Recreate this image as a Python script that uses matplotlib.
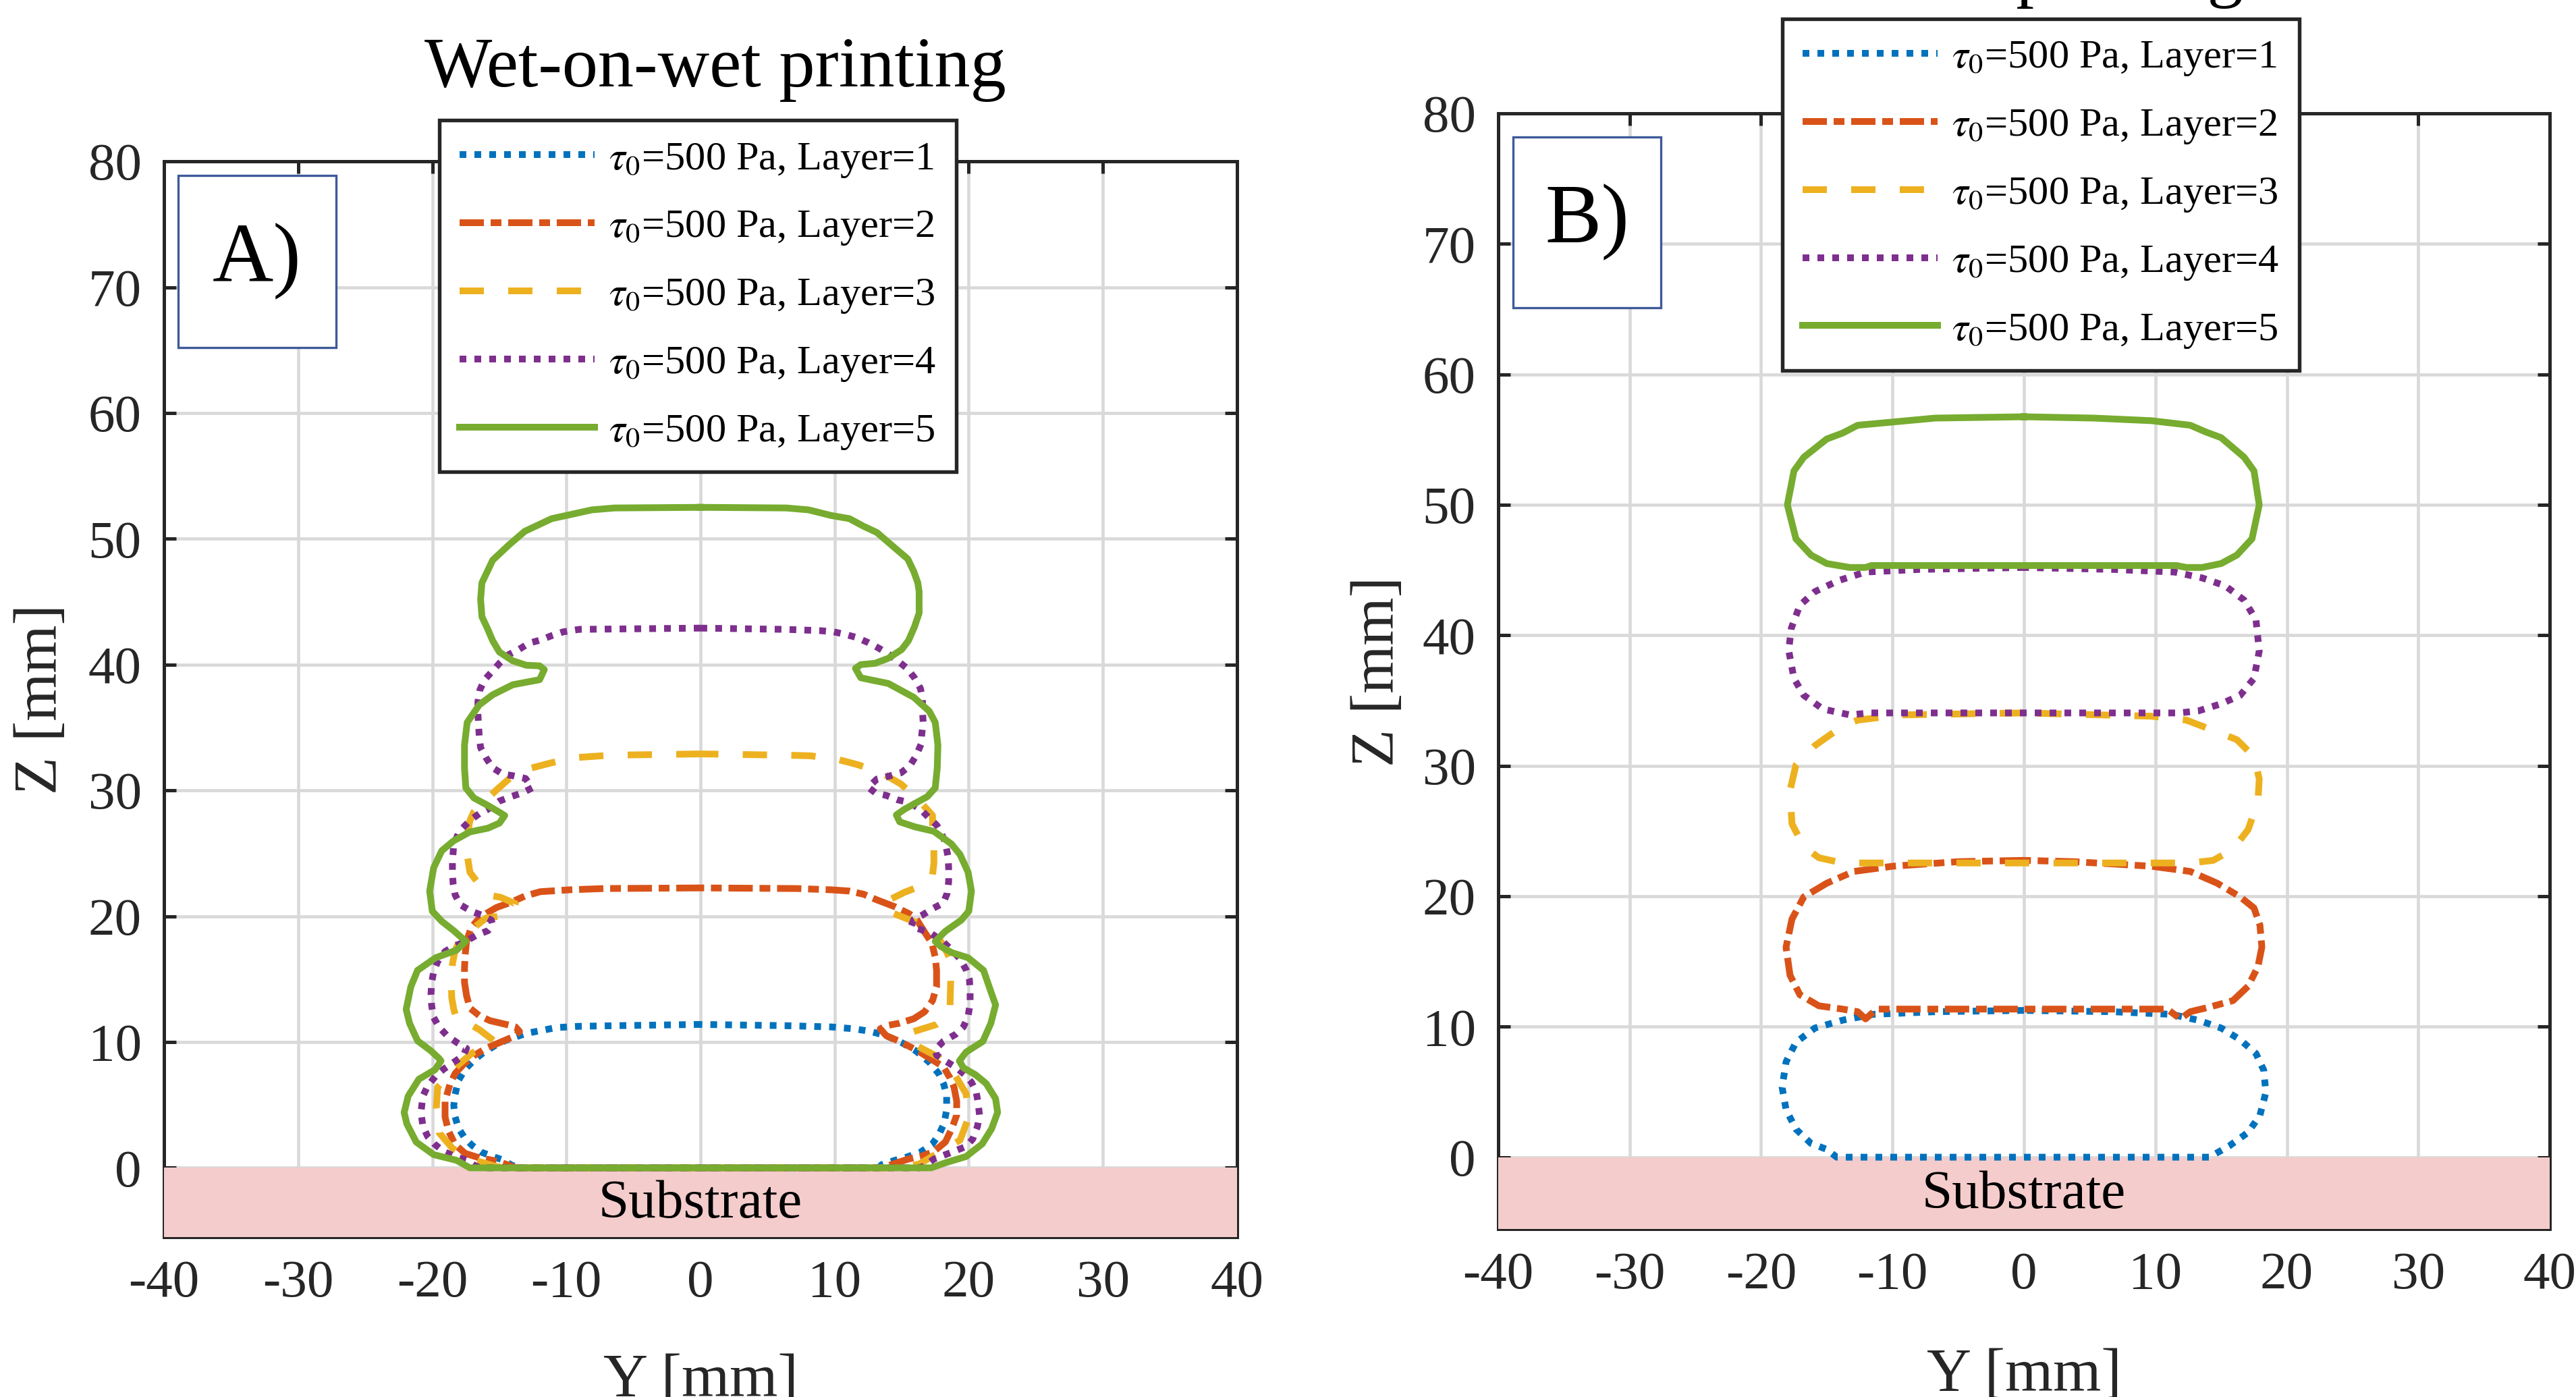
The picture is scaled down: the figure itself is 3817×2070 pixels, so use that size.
import numpy as np
import matplotlib
matplotlib.use("Agg")
import matplotlib.pyplot as plt
from matplotlib.patches import Rectangle

plt.rcParams['font.family'] = ['Liberation Serif', 'DejaVu Serif']
plt.rcParams['mathtext.fontset'] = 'stix'
plt.rcParams['axes.unicode_minus'] = False

# Contornos das seções (Y, Z) em mm
# Painel A - wet-on-wet
a_layer1 = [(0, 11.4), (-6.35, 11.3), (-9.05, 11.25), (-10.75, 11.15), (-11.95, 10.9), (-12.95, 10.7),
            (-13.8, 10.4), (-14.5, 10.15), (-15.35, 9.7), (-16.2, 9.15), (-16.85, 8.6), (-17.55, 7.85),
            (-18.05, 6.95), (-18.3, 5.85), (-18.4, 4.95), (-18.3, 4.05), (-18.05, 3.15), (-17.6, 2.4),
            (-17.05, 1.8), (-16.35, 1.25), (-15.5, 0.9), (-14.65, 0.6), (-14.15, 0.25), (-13.6, 0.0),
            (13.3, 0.0), (13.5, 0.25), (14.5, 0.6), (15.35, 0.85), (16.4, 1.25), (17.25, 1.85),
            (17.75, 2.6), (18.15, 3.5), (18.35, 4.6), (18.35, 5.7), (18.15, 6.6), (17.75, 7.5),
            (17.05, 8.4), (16.05, 9.3), (15.0, 9.95), (13.85, 10.5), (12.65, 10.85), (11.45, 11.05),
            (9.75, 11.2), (6.35, 11.3)]

a_layer2 = [(0, 22.25), (-7.2, 22.2), (-9.75, 22.1), (-11.95, 21.95), (-13.1, 21.6), (-14.15, 21.1),
            (-15.2, 20.7), (-15.85, 20.3), (-16.5, 19.85), (-17.1, 19.1), (-17.45, 18.0), (-17.55, 16.95),
            (-17.6, 15.85), (-17.6, 14.75), (-17.45, 13.7), (-17.2, 12.7), (-16.5, 12.1), (-15.7, 11.7),
            (-14.5, 11.4), (-13.8, 11.2), (-13.5, 10.85), (-13.8, 10.5), (-15.0, 9.95), (-16.0, 9.5),
            (-16.85, 8.95), (-17.7, 8.2), (-18.3, 7.5), (-18.7, 6.6), (-19.05, 5.3), (-19.05, 4.05),
            (-18.8, 2.95), (-18.3, 1.85), (-17.55, 1.15), (-16.5, 0.8), (-15.5, 0.6), (-14.8, 0.4),
            (-14.15, 0.15), (-13.8, 0.0),
            (13.8, 0.0), (14.2, 0.25), (15.5, 0.7), (16.55, 0.95), (17.4, 1.3), (18.25, 2.05),
            (18.75, 3.15), (19.1, 4.2), (19.1, 5.3), (18.9, 6.4), (18.6, 7.15), (18.1, 8.05),
            (17.25, 8.6), (16.2, 9.3), (14.85, 10.05), (13.85, 10.5), (13.4, 11.05), (13.85, 11.3),
            (14.85, 11.5), (15.9, 11.85), (16.7, 12.4), (17.3, 13.3), (17.6, 14.4), (17.6, 15.7),
            (17.5, 16.75), (17.25, 17.85), (16.7, 18.75), (16.05, 19.85), (15.55, 20.2), (14.5, 20.75),
            (13.15, 21.3), (12.15, 21.75), (11.1, 22.0), (9.75, 22.1), (7.2, 22.2)]

a_layer3 = [(0, 32.9), (-6.7, 32.8), (-9.4, 32.6), (-11.1, 32.2), (-12.9, 31.7), (-14.3, 30.9),
            (-15.2, 30.05), (-16.35, 28.9), (-16.9, 28.3), (-17.2, 27.6), (-17.4, 26.4), (-17.4, 24.9),
            (-17.2, 23.5), (-16.35, 22.3), (-15.9, 21.7), (-14.9, 21.5), (-13.8, 21.0), (-14.0, 20.3),
            (-15.0, 20.0), (-16.0, 19.85), (-17.3, 18.75), (-17.9, 18.2), (-18.3, 17.3), (-18.5, 16.2),
            (-18.6, 15.15), (-18.55, 13.5), (-18.4, 12.6), (-18.15, 11.7), (-17.0, 11.3), (-16.45, 10.95),
            (-15.35, 10.05), (-15.9, 9.6), (-17.0, 9.15), (-18.05, 8.2), (-18.9, 7.2), (-19.6, 6.4),
            (-19.7, 4.8), (-19.5, 2.8), (-18.5, 1.55), (-17.3, 0.8), (-16.5, 0.5), (-15.2, 0.1),
            (-14.5, 0.0),
            (15.0, 0.0), (16.3, 0.3), (17.9, 1.3), (19.35, 2.2), (20.0, 4.05), (19.8, 5.9),
            (18.9, 7.5), (17.75, 8.8), (16.3, 9.6), (15.4, 10.2), (15.8, 10.8), (17.6, 11.4),
            (18.25, 11.9), (18.6, 12.8), (18.65, 14.8), (18.6, 16.6), (18.1, 17.7), (17.6, 18.5),
            (16.55, 19.3), (14.8, 20.05), (14.0, 20.4), (13.7, 21.1), (15.2, 21.9), (16.65, 22.5),
            (17.3, 23.3), (17.4, 24.2), (17.4, 25.85), (17.3, 27.0), (17.3, 28.0), (16.55, 28.9),
            (15.8, 29.7), (14.95, 30.5), (13.5, 31.4), (11.7, 32.05), (10.1, 32.5), (8.2, 32.75),
            (6.5, 32.8)]

a_layer4 = [(0, 42.9), (-9.05, 42.8), (-10.25, 42.6), (-11.1, 42.3), (-11.95, 41.95), (-12.8, 41.7),
            (-13.55, 41.2), (-14.3, 40.8), (-15.0, 40.1), (-15.5, 39.5), (-16.1, 38.8), (-16.45, 38.0),
            (-16.6, 37.05), (-16.6, 36.1), (-16.55, 35.1), (-16.5, 34.3), (-16.4, 33.4), (-16.0, 32.6),
            (-15.5, 31.8), (-14.75, 31.3), (-13.9, 31.15), (-13.05, 30.95), (-12.55, 30.2), (-13.3, 29.8),
            (-14.15, 29.5), (-15.0, 29.15), (-15.85, 28.5), (-16.5, 28.15), (-17.2, 27.6), (-17.75, 27.0),
            (-18.05, 26.6), (-18.4, 25.7), (-18.5, 24.4), (-18.5, 23.5), (-18.45, 22.6), (-18.3, 21.7),
            (-17.9, 20.9), (-17.1, 20.4), (-16.35, 20.1), (-15.6, 19.7), (-15.5, 19.3), (-15.85, 18.85),
            (-16.7, 18.5), (-17.5, 18.0), (-18.4, 17.6), (-19.05, 17.2), (-19.6, 16.4), (-19.9, 15.6),
            (-20.05, 14.7), (-20.1, 13.8), (-20.05, 12.9), (-19.9, 11.95), (-19.5, 11.2), (-18.9, 10.5),
            (-18.15, 9.95), (-17.45, 9.5), (-17.7, 8.9), (-18.4, 8.4), (-19.15, 7.85), (-19.75, 7.3),
            (-20.35, 6.5), (-20.7, 5.7), (-20.85, 4.4), (-20.7, 3.3), (-20.35, 2.5), (-19.85, 1.9),
            (-19.15, 1.3), (-18.3, 0.9), (-17.4, 0.6), (-16.8, 0.15), (-16.3, 0.0),
            (16.3, 0.0), (16.7, 0.15), (17.4, 0.7), (18.75, 1.25), (19.8, 1.7), (20.3, 2.3),
            (20.65, 3.3), (20.8, 4.2), (20.7, 5.15), (20.55, 6.05), (20.2, 6.8), (19.7, 7.4),
            (19.1, 7.95), (18.25, 8.5), (17.6, 8.95), (17.5, 9.4), (18.1, 10.05), (19.0, 10.6),
            (19.6, 11.2), (19.95, 12.05), (20.1, 13.05), (20.1, 14.05), (20.05, 14.95), (19.8, 15.75),
            (19.35, 16.6), (18.75, 17.3), (18.1, 17.95), (17.25, 18.6), (16.4, 18.95), (15.7, 19.2),
            (15.9, 19.75), (16.55, 20.1), (17.3, 20.6), (18.1, 21.05), (18.4, 21.85), (18.5, 22.75),
            (18.5, 23.85), (18.45, 24.75), (18.25, 25.85), (17.9, 26.75), (17.6, 27.25), (17.05, 27.8),
            (16.4, 28.5), (15.55, 29.05), (14.7, 29.25), (13.85, 29.6), (13.05, 29.8), (12.5, 30.25),
            (13.15, 30.9), (14.1, 31.15), (14.95, 31.4), (15.6, 31.95), (16.1, 32.8), (16.45, 33.7),
            (16.5, 34.5), (16.6, 35.4), (16.55, 36.3), (16.55, 37.2), (16.4, 38.1), (15.95, 38.95),
            (15.4, 39.7), (14.7, 40.3), (14.0, 40.85), (13.3, 41.3), (12.5, 41.75), (11.65, 42.15),
            (10.8, 42.4), (9.95, 42.6), (8.9, 42.7), (6.35, 42.8)]

a_layer5 = [(0, 52.5), (-6.4, 52.45), (-8.1, 52.3), (-9.8, 51.9), (-11.1, 51.6), (-12.1, 51.1),
            (-13.1, 50.6), (-14.3, 49.5), (-15.5, 48.3), (-16.3, 46.5), (-16.4, 45.2), (-16.3, 43.8),
            (-15.9, 42.9), (-15.5, 41.9), (-15.0, 41.0), (-14.0, 40.3), (-13.0, 39.95), (-12.0, 39.9),
            (-11.65, 39.6), (-12.0, 38.8), (-14.0, 38.4), (-15.5, 37.6), (-16.5, 36.8), (-17.4, 35.4),
            (-17.6, 33.6), (-17.6, 31.8), (-17.5, 30.2), (-16.9, 29.4), (-15.85, 28.8), (-14.9, 28.2),
            (-14.6, 28.0), (-15.0, 27.4), (-15.85, 27.0), (-17.2, 26.7), (-18.4, 26.0), (-19.3, 25.2),
            (-19.9, 23.85), (-20.2, 22.0), (-20.0, 20.4), (-19.3, 19.6), (-18.4, 18.85), (-17.5, 18.0),
            (-18.2, 17.3), (-19.75, 16.7), (-21.1, 15.7), (-21.6, 14.4), (-21.95, 12.6), (-21.7, 11.5),
            (-21.1, 10.1), (-20.1, 9.3), (-19.5, 8.7), (-19.35, 8.5), (-19.8, 7.8), (-21.0, 7.05),
            (-21.8, 5.7), (-22.1, 4.4), (-21.9, 3.5), (-21.2, 2.05), (-19.9, 1.05), (-18.2, 0.6),
            (-17.2, 0.0),
            (17.2, 0.0), (18.25, 0.4), (19.8, 0.9), (21.0, 1.9), (21.7, 3.1), (22.15, 4.4),
            (22.0, 5.5), (21.3, 6.7), (20.5, 7.4), (19.6, 7.95), (19.3, 8.5), (19.8, 9.2),
            (21.05, 10.05), (21.65, 11.5), (22.0, 12.95), (21.65, 14.0), (21.1, 15.7), (19.95, 16.7),
            (18.75, 17.1), (17.9, 17.6), (17.5, 18.0), (18.25, 18.8), (19.45, 19.7), (20.0, 20.4),
            (20.2, 22.0), (19.95, 23.5), (19.35, 24.9), (18.7, 25.75), (17.4, 26.75), (16.0, 27.1),
            (14.85, 27.5), (14.6, 28.05), (15.2, 28.5), (16.9, 29.5), (17.5, 30.2), (17.65, 31.8),
            (17.7, 33.6), (17.5, 35.4), (17.05, 36.3), (15.9, 37.4), (14.0, 38.5), (11.95, 38.95),
            (11.55, 39.7), (11.95, 40.0), (13.0, 40.1), (14.0, 40.5), (15.0, 41.2), (15.5, 41.9),
            (15.95, 43.0), (16.3, 44.1), (16.3, 45.8), (16.2, 46.5), (15.9, 47.4), (15.45, 48.4),
            (14.35, 49.4), (13.15, 50.5), (12.15, 51.0), (11.1, 51.6), (9.75, 51.85), (8.05, 52.3),
            (6.4, 52.45)]

# Painel B
b_layer1 = [(0, 11.25), (-6.75, 11.15), (-11.45, 10.95), (-13.8, 10.5), (-15.9, 9.9), (-17.35, 8.8),
            (-18.1, 7.3), (-18.4, 5.35), (-18.1, 3.65), (-17.35, 2.15), (-16.2, 1.05), (-15.0, 0.6),
            (-14.25, 0.0), (14.1, 0.0), (15.6, 0.85), (17.05, 1.9), (17.95, 3.2), (18.4, 4.95),
            (18.25, 6.65), (17.65, 7.95), (16.45, 9.0), (15.0, 9.9), (13.25, 10.5), (11.2, 10.95),
            (6.75, 11.15)]

b_layer2 = [(0, 22.75), (-5.0, 22.65), (-10.0, 22.3), (-12.95, 21.9), (-15.0, 21.0), (-16.75, 19.95),
            (-17.65, 18.25), (-18.1, 16.1), (-17.8, 13.95), (-17.05, 12.45), (-15.6, 11.6), (-13.8, 11.35),
            (-12.65, 11.15), (-12.05, 10.6), (-11.2, 11.35), (10.9, 11.35), (11.9, 10.6), (12.65, 11.15),
            (14.1, 11.5), (15.9, 12.0), (17.05, 13.1), (17.8, 14.6), (18.1, 16.1), (17.95, 17.8),
            (17.5, 19.1), (16.45, 19.95), (14.7, 21.0), (12.65, 21.9), (9.7, 22.3), (3.8, 22.65)]

b_layer3 = [(0, 34.05), (-9.4, 33.9), (-12.65, 33.5), (-13.8, 33.05), (-15.9, 31.55), (-17.35, 30.05),
            (-17.8, 28.1), (-17.65, 25.55), (-16.75, 23.8), (-15.6, 22.95), (-13.8, 22.55), (12.65, 22.55),
            (14.4, 22.75), (15.9, 23.6), (17.05, 25.1), (17.8, 27.25), (17.9, 29.0), (17.5, 30.7),
            (16.2, 32.0), (14.7, 32.6), (12.35, 33.5), (9.7, 33.8)]

b_layer4 = [(0, 45.2), (-7.95, 45.05), (-12.05, 44.85), (-14.1, 44.2), (-15.9, 43.35), (-17.05, 42.3),
            (-17.7, 40.55), (-17.9, 38.85), (-17.5, 36.7), (-16.75, 35.4), (-15.3, 34.35), (-13.25, 33.9),
            (-11.75, 34.05), (11.75, 34.05), (13.25, 34.2), (15.0, 34.75), (16.45, 35.4), (17.5, 36.7),
            (17.9, 38.8), (17.65, 41.2), (16.75, 42.7), (15.3, 43.8), (13.55, 44.4), (11.45, 44.85),
            (6.75, 45.05)]

b_layer5 = [(0, 56.75), (-6.75, 56.65), (-12.65, 56.1), (-13.8, 55.5), (-15.0, 55.05), (-16.75, 53.65),
            (-17.5, 52.6), (-18.0, 50.0), (-17.35, 47.4), (-16.2, 46.15), (-15.0, 45.5), (-13.25, 45.2),
            (-12.05, 45.2), (-11.6, 45.35), (11.6, 45.35), (12.35, 45.2), (13.55, 45.2), (15.0, 45.5),
            (16.2, 46.15), (17.35, 47.4), (17.9, 50.0), (17.5, 52.6), (16.75, 53.65), (15.0, 55.15),
            (13.8, 55.6), (12.65, 56.1), (9.7, 56.45), (5.3, 56.65)]

layer_labels = [r'$\tau_0$=500 Pa, Layer=1', r'$\tau_0$=500 Pa, Layer=2', r'$\tau_0$=500 Pa, Layer=3',
                r'$\tau_0$=500 Pa, Layer=4', r'$\tau_0$=500 Pa, Layer=5']
x_ticks = [-40, -30, -20, -10, 0, 10, 20, 30, 40]
z_ticks = [0, 10, 20, 30, 40, 50, 60, 70, 80]

# estilo (cores padrão do MATLAB)
colors = ['#0072BD', '#D95319', '#EDB120', '#7E2F8E', '#77AC30']
styles = [(0, (1, 1.2)), (0, (3.6, 1.0, 1.6, 1.0)), (0, (3.6, 3.6)), (0, (1, 1.2)), '-']
dark = '#262626'


def draw_panel(ax, layers, tag, tag_box, legend_pos):
    ax.set_xlim(-40, 40)
    ax.set_ylim(-5.5, 80)
    ax.set_xticks(x_ticks)
    ax.set_yticks(z_ticks)
    ax.grid(True, color='#d9d9d9', linewidth=1.1)
    for s in ax.spines.values():
        s.set_linewidth(1.2)
        s.set_color(dark)
    ax.tick_params(direction='in', length=4.4, width=1.2, top=True, right=True,
                   labelsize=19, pad=8, color=dark, labelcolor=dark)

    # substrato
    ax.add_patch(Rectangle((-40, -5.5), 80, 5.5, facecolor='#f4cccc', edgecolor='none', zorder=2.6))
    ax.text(0, -2.9, 'Substrate', ha='center', va='center', fontsize=19.5, zorder=2.7)

    for pts, c, ls, lab in zip(layers, colors, styles, layer_labels):
        p = np.array(pts + [pts[0]])
        ax.plot(p[:, 0], p[:, 1], color=c, linestyle=ls, linewidth=2.4, label=lab, zorder=3)

    ax.set_xlabel('Y [mm]', fontsize=22, color=dark)
    ax.set_ylabel('Z [mm]', fontsize=22, color=dark)

    # caixa com a letra do painel
    x0, y0, x1, y1 = tag_box
    ax.add_patch(Rectangle((x0, y0), x1 - x0, y1 - y0, transform=ax.transAxes,
                           facecolor='white', edgecolor='#3d5a99', linewidth=0.8, zorder=4))
    ax.text((x0 + x1) / 2, (y0 + y1) / 2, tag, transform=ax.transAxes, ha='center', va='center',
            fontsize=30, zorder=5)

    leg = ax.legend(loc='upper left', bbox_to_anchor=legend_pos, bbox_transform=fig.transFigure,
                    fontsize=14.5, handlelength=3.3, handletextpad=0.35, labelspacing=0.72,
                    borderpad=0.5, borderaxespad=0, fancybox=False, framealpha=1,
                    edgecolor=dark)
    leg.get_frame().set_linewidth(1.3)
    leg.set_zorder(6)


fig = plt.figure(figsize=(3817 / 300, 2070 / 300), dpi=300)
ax_a = fig.add_axes([0.0637, 0.1145, 0.4165, 0.7700])
ax_b = fig.add_axes([0.5816, 0.1203, 0.4082, 0.7985])

draw_panel(ax_a, [a_layer1, a_layer2, a_layer3, a_layer4, a_layer5], 'A)',
           (0.013, 0.827, 0.160, 0.987), (0.1706, 0.914))
draw_panel(ax_b, [b_layer1, b_layer2, b_layer3, b_layer4, b_layer5], 'B)',
           (0.014, 0.826, 0.155, 0.979), (0.6919, 0.9865))

ax_a.xaxis.set_label_coords(0.5, -0.108)
ax_b.xaxis.set_label_coords(0.5, -0.1065)
ax_a.yaxis.set_label_coords(-0.088, 0.5)
ax_b.yaxis.set_label_coords(-0.087, 0.5)

# títulos (o do painel B está cortado no topo da figura original)
fig.text(1060 / 3817, 1 - 128 / 2070, 'Wet-on-wet printing', ha='center', va='baseline', fontsize=25.5)
fig.text(3021 / 3817, 1 + 10 / 2070, 'Dried printing', ha='center', va='baseline', fontsize=25.5)

fig.savefig('out.png', dpi=300)
